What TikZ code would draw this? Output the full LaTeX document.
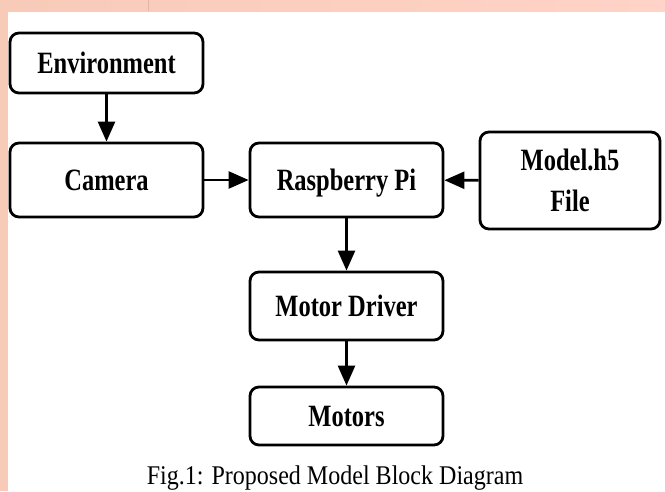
\documentclass[tikz,border=0pt]{standalone}
\usepackage{fontspec}
\setmainfont[FakeStretch=0.79]{Liberation Serif}
\newfontfamily\capfont[FakeStretch=0.89]{Liberation Serif}
\usetikzlibrary{arrows.meta,positioning}
\definecolor{pinkA}{RGB}{248,202,184}
\definecolor{pinkB}{RGB}{255,211,199}
\definecolor{pinkLine}{RGB}{226,180,168}

\begin{document}
\begin{tikzpicture}[x=1pt,y=-1pt,->,>={Triangle[length=20pt,width=17pt]},line width=2.6pt,
    block/.style={rectangle, rounded corners=9pt, draw, line width=2.8pt, minimum width=193pt,
      font=\fontsize{31}{41}\selectfont\bfseries, align=center, inner sep=0pt, text depth=0pt}]
  \useasboundingbox (0,0) rectangle (665,491);
  % slide background
  \fill[white] (0,0) rectangle (665,491);
  \shade[left color=pinkA, right color=pinkB, draw=none] (0,0) rectangle (665,11);
  \fill[pinkA] (0,0) rectangle (8,491);
  \draw[-, pinkLine, line width=0.8pt] (148,0) -- (148,11);

  \node[block, minimum height=60pt] (env) at (106.5,63) {Environment};
  \node[block, minimum height=74pt] (cam) at (106.5,180) {Camera};
  \node[block, minimum height=74pt] (rpi) at (346.5,180) {Raspberry Pi};
  \node[block, minimum width=180pt, minimum height=97pt] (model) at (570,180.5) {Model.h5\\File};
  \node[block, minimum height=68pt] (drv) at (346.5,306) {Motor Driver};
  \node[block, minimum height=58pt] (mot) at (346.5,416) {Motors};

  \node[font=\capfont\fontsize{27}{29}\selectfont, anchor=base] (cap) at (335,484) {Fig.1: Proposed Model Block Diagram};

  \draw (env) -- (cam);
  \draw (cam) -- (rpi);
  \draw (model) -- (rpi);
  \draw (rpi) -- (drv);
  \draw (drv) -- (mot);
\end{tikzpicture}
\end{document}
